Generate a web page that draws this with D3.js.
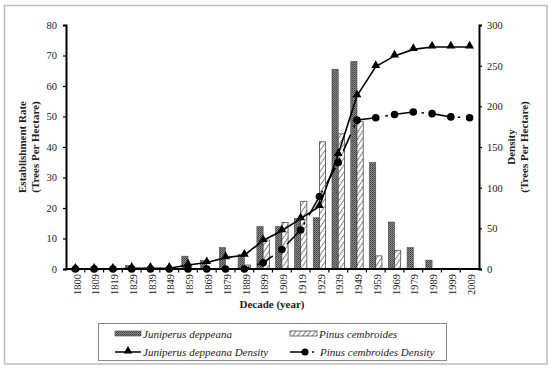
<!DOCTYPE html>
<html>
<head>
<meta charset="utf-8">
<script src="https://cdn.jsdelivr.net/npm/d3@7"></script>
<style>
  body { margin: 0; background: #fff; }
  svg { display: block; font-family: "Liberation Serif", "Times New Roman", serif; }
</style>
</head>
<body>
<div id="wrapper"></div>
<script>
// decades on the x axis
const decades = ["1800","1809","1819","1829","1839","1849","1859","1869","1879","1889","1899",
  "1909","1919","1929","1939","1949","1959","1969","1979","1989","1999","2009"];

// establishment rate (left axis)
const juniperusRate = [0,0,0,1.2,0.3,0,4.2,2.8,7,4.7,13.9,13.9,16.6,16.8,65.5,68,34.9,15.4,7,2.9,0,0];
const pinusRate = [0,0,0,0,0,0,0,0,0,1.3,9.5,15.3,22.2,41.7,44.3,48.3,4.3,6,0,0,0,0];

// density (right axis)
const juniperusDensity = [0,0,0,1,1,1,5,8,14,17,35,47,62,77,141,213,249,262,270,273,273,273];
const pinusDensity = [0,0,0,0,0,0,0,0,0,0,7.7,24,48,89,131,183,186,190,193,191,187,186];

const leftTicks = [0,10,20,30,40,50,60,70,80];
const rightTicks = [0,50,100,150,200,250,300];

const dimensions = {
  width: 550,
  height: 371,
  left: 66,
  right: 479,
  top: 25,
  bottom: 269,
}

const svg = d3.select("#wrapper")
  .append("svg")
    .attr("width", dimensions.width)
    .attr("height", dimensions.height)

// patterns for the bars
const defs = svg.append("defs")
const dotPattern = defs.append("pattern")
    .attr("id", "dots")
    .attr("patternUnits", "userSpaceOnUse")
    .attr("width", 2)
    .attr("height", 2)
dotPattern.append("rect").attr("width", 2).attr("height", 2).attr("fill", "#8a8a8a")
dotPattern.append("rect").attr("width", 1).attr("height", 1).attr("fill", "#3c3c3c")
dotPattern.append("rect").attr("x", 1).attr("y", 1).attr("width", 1).attr("height", 1).attr("fill", "#5a5a5a")

const hatch = defs.append("pattern")
    .attr("id", "hatch")
    .attr("patternUnits", "userSpaceOnUse")
    .attr("width", 4)
    .attr("height", 4)
    .attr("patternTransform", "rotate(35)")
hatch.append("rect").attr("width", 4).attr("height", 4).attr("fill", "#fff")
hatch.append("line")
    .attr("x1", 0).attr("y1", 0).attr("x2", 0).attr("y2", 4)
    .attr("stroke", "#555").attr("stroke-width", 1.4)

// outer frame
svg.append("rect")
    .attr("x", 4.5)
    .attr("y", 5.5)
    .attr("width", 542.5)
    .attr("height", 358.5)
    .attr("fill", "none")
    .attr("stroke", "#bdbdbd")
    .attr("stroke-width", 1.5)

// scales
const xScale = d3.scaleBand()
  .domain(decades)
  .range([dimensions.left, dimensions.right])

const yLeft = d3.scaleLinear()
  .domain([0, 80])
  .range([dimensions.bottom, dimensions.top])

const yRight = d3.scaleLinear()
  .domain([0, 300])
  .range([dimensions.bottom, dimensions.top])

const barW = 6.2
const center = d => xScale(d) + xScale.bandwidth() / 2

// bars
svg.append("g")
  .selectAll("rect")
  .data(decades.map((d, i) => ({ d, v: juniperusRate[i] })).filter(e => e.v > 0))
  .join("rect")
    .attr("x", e => center(e.d) - barW)
    .attr("y", e => yLeft(e.v))
    .attr("width", barW)
    .attr("height", e => yLeft(0) - yLeft(e.v))
    .attr("fill", "url(#dots)")
    .attr("stroke", "#444")
    .attr("stroke-width", 0.6)

svg.append("g")
  .selectAll("rect")
  .data(decades.map((d, i) => ({ d, v: pinusRate[i] })).filter(e => e.v > 0))
  .join("rect")
    .attr("x", e => center(e.d))
    .attr("y", e => yLeft(e.v))
    .attr("width", barW)
    .attr("height", e => yLeft(0) - yLeft(e.v))
    .attr("fill", "url(#hatch)")
    .attr("stroke", "#333")
    .attr("stroke-width", 0.7)

// density lines
const junLine = d3.line()
  .x((v, i) => center(decades[i]))
  .y(v => yRight(v))

svg.append("path")
    .attr("d", junLine(juniperusDensity))
    .attr("fill", "none")
    .attr("stroke", "#000")
    .attr("stroke-width", 1.6)

svg.append("path")
    .attr("d", junLine(pinusDensity))
    .attr("fill", "none")
    .attr("stroke", "#000")
    .attr("stroke-width", 1.6)
    .attr("stroke-dasharray", "18,8,2.5,8")

const triangle = d3.symbol().type(d3.symbolTriangle).size(34)

svg.append("g")
  .selectAll("path")
  .data(juniperusDensity)
  .join("path")
    .attr("d", triangle)
    .attr("transform", (v, i) => `translate(${center(decades[i])},${yRight(v) - 1})`)
    .attr("fill", "#000")

svg.append("g")
  .selectAll("circle")
  .data(pinusDensity)
  .join("circle")
    .attr("cx", (v, i) => center(decades[i]))
    .attr("cy", v => yRight(v))
    .attr("r", 3.8)
    .attr("fill", "#000")

// axes
const leftAxis = svg.append("g")
    .attr("transform", `translate(${dimensions.left},0)`)
    .call(d3.axisLeft(yLeft).tickValues(leftTicks).tickSize(3).tickPadding(6))
const rightAxis = svg.append("g")
    .attr("transform", `translate(${dimensions.right},0)`)
    .call(d3.axisRight(yRight).tickValues(rightTicks).tickSize(3).tickPadding(5))

const xAxis = svg.append("g")
    .attr("transform", `translate(0,${dimensions.bottom})`)
    .call(d3.axisBottom(xScale).tickSize(0).tickPadding(0))

xAxis.selectAll("text")
    .attr("transform", "rotate(-90)")
    .attr("x", -5)
    .attr("y", 1.5)
    .attr("dy", "0.35em")
    .attr("text-anchor", "end")

// boundary ticks between decades
xAxis.append("g")
  .selectAll("line")
  .data(decades.slice(1))
  .join("line")
    .attr("x1", d => xScale(d))
    .attr("x2", d => xScale(d))
    .attr("y1", 0)
    .attr("y2", 3.5)
    .attr("stroke", "#000")
    .attr("stroke-width", 1.2)

for (const axis of [leftAxis, rightAxis, xAxis]) {
  axis.select(".domain").attr("stroke", "#000").attr("stroke-width", 2)
  axis.selectAll(".tick line").attr("stroke", "#000").attr("stroke-width", 1.2)
  axis.selectAll("text")
      .attr("font-family", "Liberation Serif, serif")
      .attr("font-size", 10.5)
      .attr("fill", "#222")
}
xAxis.select(".domain").attr("d", `M${dimensions.left - 1},0H${dimensions.right + 1}`)

// axis titles
const leftTitle = svg.append("text")
    .attr("transform", `translate(26,${(dimensions.top + dimensions.bottom) / 2 - 0}) rotate(-90)`)
    .attr("text-anchor", "middle")
    .attr("font-weight", "bold")
    .attr("font-size", 11)
    .attr("fill", "#222")
leftTitle.append("tspan").attr("x", 0).attr("dy", 0).text("Establishment Rate")
leftTitle.append("tspan").attr("x", 0).attr("dy", 13).text("(Trees Per Hectare)")

const rightTitle = svg.append("text")
    .attr("transform", `translate(515,${(dimensions.top + dimensions.bottom) / 2}) rotate(-90)`)
    .attr("text-anchor", "middle")
    .attr("font-weight", "bold")
    .attr("font-size", 11)
    .attr("fill", "#222")
rightTitle.append("tspan").attr("x", 0).attr("dy", 0).text("Density")
rightTitle.append("tspan").attr("x", 0).attr("dy", 13).text("(Trees Per Hectare)")

svg.append("text")
    .attr("x", 272)
    .attr("y", 308)
    .attr("text-anchor", "middle")
    .attr("font-weight", "bold")
    .attr("font-size", 11)
    .attr("fill", "#222")
    .text("Decade (year)")

// legend
const legend = svg.append("g")
legend.append("rect")
    .attr("x", 98.5)
    .attr("y", 323.5)
    .attr("width", 348)
    .attr("height", 37)
    .attr("fill", "#fff")
    .attr("stroke", "#888")
    .attr("stroke-width", 1)

legend.append("rect")
    .attr("x", 115).attr("y", 331).attr("width", 26).attr("height", 5)
    .attr("fill", "url(#dots)").attr("stroke", "#444").attr("stroke-width", 0.6)
legend.append("rect")
    .attr("x", 290).attr("y", 331).attr("width", 27).attr("height", 5)
    .attr("fill", "url(#hatch)").attr("stroke", "#333").attr("stroke-width", 0.7)

legend.append("line")
    .attr("x1", 115).attr("x2", 141).attr("y1", 352).attr("y2", 352)
    .attr("stroke", "#000").attr("stroke-width", 1.5)
legend.append("path")
    .attr("d", triangle)
    .attr("transform", "translate(128,351)")
    .attr("fill", "#000")

legend.append("line")
    .attr("x1", 290).attr("x2", 305).attr("y1", 352).attr("y2", 352)
    .attr("stroke", "#000").attr("stroke-width", 1.5)
legend.append("circle")
    .attr("cx", 305).attr("cy", 352).attr("r", 3.5).attr("fill", "#000")
legend.append("circle")
    .attr("cx", 313).attr("cy", 352).attr("r", 1).attr("fill", "#000")

const legendItems = [
  { x: 143, y: 338, label: "Juniperus deppeana" },
  { x: 319, y: 338, label: "Pinus cembroides" },
  { x: 143, y: 356, label: "Juniperus deppeana Density" },
  { x: 320, y: 356, label: "Pinus cembroides Density" },
]
legend.selectAll(".legend-label")
  .data(legendItems)
  .join("text")
    .attr("class", "legend-label")
    .attr("x", d => d.x)
    .attr("y", d => d.y)
    .attr("font-style", "italic")
    .attr("font-size", 11)
    .attr("fill", "#222")
    .text(d => d.label)
</script>
</body>
</html>
